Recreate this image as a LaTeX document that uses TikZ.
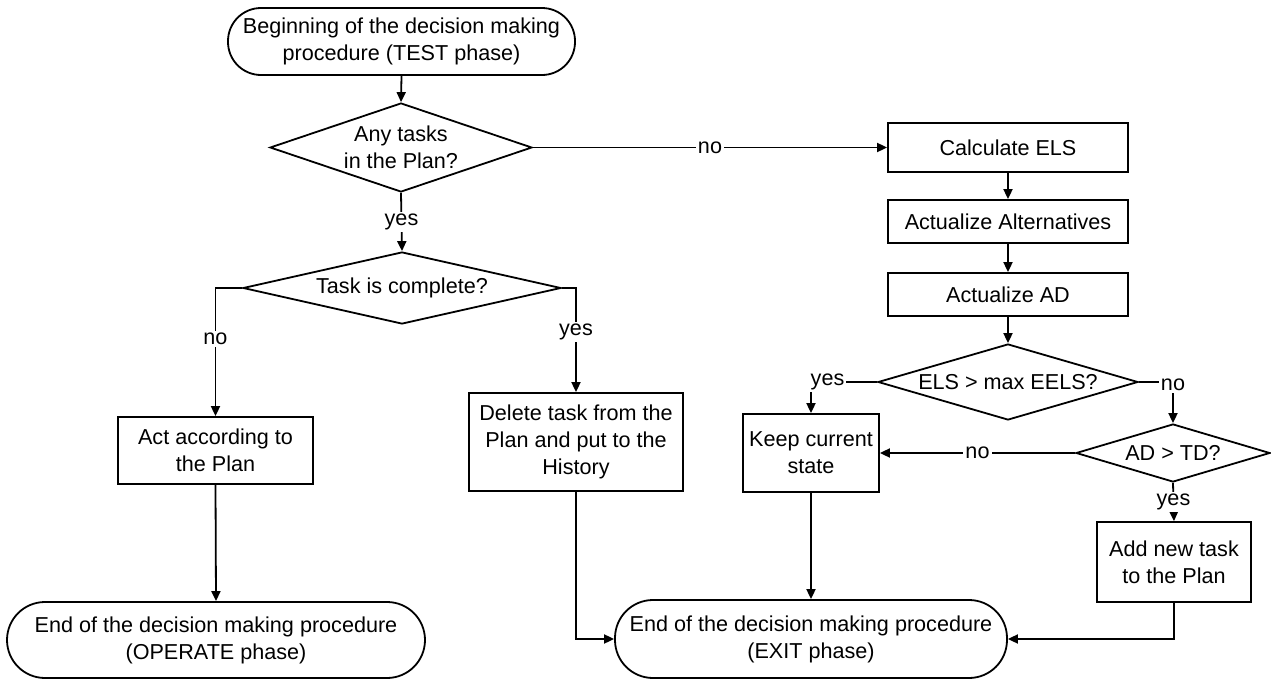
\documentclass[tikz,border=0pt]{standalone}
\usepackage{fontspec}
\setmainfont{Liberation Sans}
\usetikzlibrary{shapes.geometric,arrows.meta}
\begin{document}
\begin{tikzpicture}[x=0.5pt,y=-0.5pt,
  every node/.style={font=\fontsize{10.8pt}{13.5pt}\selectfont},
  box/.style={draw, line width=0.9pt, rectangle, align=center, inner sep=0pt},
  term/.style={draw, line width=0.9pt, rectangle, align=center, inner sep=0pt, rounded corners=#1},
  decision/.style={draw, line width=0.9pt, diamond, inner sep=0pt},
  flow/.style={line width=0.9pt, -{Triangle[length=5pt,width=4.5pt]}},
  lbl/.style={fill=white, inner sep=1pt},
]
\useasboundingbox (0,0) rectangle (1271,680);

% left column: test phase and the plan check
\node[term=16.5pt, minimum width=173.5pt, minimum height=33.5pt] (start) at (401.5,41.5)
  {Beginning of the decision making\\procedure (TEST phase)};
\node[decision, minimum width=131pt, minimum height=44.5pt,
  label={[align=center]center:Any tasks\\in the Plan?}] (q1) at (401,147.5) {};
\node[decision, minimum width=159pt, minimum height=36pt,
  label={center:Task is complete?}] (q2) at (402,288) {};
\node[box, minimum width=97.5pt, minimum height=33.5pt] (act) at (215.5,450.5)
  {Act according to\\the Plan};
\node[term=19pt, minimum width=209pt, minimum height=38pt] (operate) at (216,640)
  {End of the decision making procedure\\(OPERATE phase)};
\node[box, minimum width=107pt, minimum height=49pt] (del) at (576,442)
  {Delete task from the\\Plan and put to the\\History};

% right column: evaluation of alternatives
\node[box, minimum width=120pt, minimum height=24.5pt] (calc) at (1008,147.5) {Calculate ELS};
\node[box, minimum width=120pt, minimum height=21.5pt] (alt) at (1008,221.5) {Actualize Alternatives};
\node[box, minimum width=120pt, minimum height=21.5pt] (adbox) at (1008,294.5) {Actualize AD};
\node[decision, minimum width=130pt, minimum height=38pt,
  label={center:ELS > max EELS?}] (q3) at (1008,382) {};
\node[box, minimum width=68pt, minimum height=39pt] (keep) at (811,453) {Keep current\\state};
\node[decision, minimum width=97pt, minimum height=29pt,
  label={center:AD > TD?}] (q4) at (1173,453) {};
\node[box, minimum width=77pt, minimum height=40pt] (add) at (1174,562) {Add new task\\to the Plan};
\node[term=19pt, minimum width=196pt, minimum height=39pt] (exit) at (811,639)
  {End of the decision making procedure\\(EXIT phase)};

% connectors
\draw[flow] (start.south) -- (q1.north);
\draw[flow] (q1.east) -- node[lbl]{no} (calc.west);
\draw[flow] (q1.south) -- node[lbl]{yes} (q2.north);
\draw[flow] (q2.west) -| node[lbl, pos=0.70]{no} (act.north);
\draw[flow] (q2.east) -| node[lbl, pos=0.71]{yes} (del.north);
\draw[flow] (act.south) -- (operate.north);
\draw[flow] (del.south) |- (exit.west);
\draw[flow] (calc.south) -- (alt.north);
\draw[flow] (alt.south) -- (adbox.north);
\draw[flow] (adbox.south) -- (q3.north);
\draw[flow] (q3.west) -| node[lbl, pos=0.375]{yes} (keep.north);
\draw[flow] (q3.east) -| node[lbl, pos=0.5, yshift=-1.5pt]{no} (q4.north);
\draw[flow] (q4.west) -- node[lbl]{no} (keep.east);
\draw[flow] (q4.south) -- node[lbl]{yes} (add.north);
\draw[flow] (keep.south) -- (exit.north);
\draw[flow] (add.south) |- (exit.east);
\end{tikzpicture}
\end{document}
